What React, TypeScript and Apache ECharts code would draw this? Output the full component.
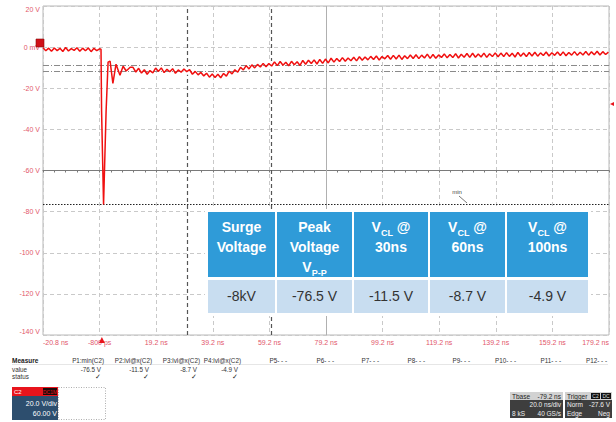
import React, { useEffect, useRef } from "react";
import * as echarts from "echarts";

// ---------- data ----------
const xTickLabels = ["-20.8 ns", "-800 ps", "19.2 ns", "39.2 ns", "59.2 ns", "79.2 ns", "99.2 ns", "119.2 ns", "139.2 ns", "159.2 ns", "179.2 ns"];
const yTickValues = [20, 0, -20, -40, -60, -80, -100, -120, -140];
const yTickLabels = ["20 V", "0 mV", "-20 V", "-40 V", "-60 V", "-80 V", "-100 V", "-120 V", "-140 V"];
const timeLeft = -20.8; // ns at left edge of screen

// pre-trigger trace, sampled every 1 ns from -20.8 ns
const preTriggerStart = -20.8;
const preTriggerVolts = [-0.3, -1.8, -0.5, -2.0, -0.4, -1.7, -0.6, -2.1, -0.2, -1.9, -0.7, -1.6, -0.3, -2.0, -0.5, -1.8, -0.4, -2.2, -0.6, -1.7, -0.8];
// surge spike and ringing
const spikeTimes = [-0.3, -0.1, 0.6, 1.5, 2.2, 2.9, 3.9, 5.0, 6.4, 7.5, 8.6, 10.0];
const spikeVolts = [-1.0, -31, -76.5, -31, -7.3, -6.8, -17.6, -8.3, -13.7, -9.3, -11.6, -9.8];
// settling trace, sampled every 1 ns from 11 ns
const settleStart = 11;
const settleVolts = [
  -9.8, -12.1, -10.3, -12.6, -11.0, -13.2, -11.4, -12.5, -10.2, -11.8,
  -10.1, -12.4, -10.8, -12.0, -10.5, -12.7, -11.1, -12.2, -10.6, -11.9,
  -11.0, -13.2, -11.8, -13.5, -12.3, -14.0, -12.7, -14.6, -13.1, -14.8,
  -13.2, -14.9, -12.8, -14.1, -11.7, -13.0, -11.0, -12.2, -9.8, -11.1,
  -9.0, -10.6, -8.6, -10.1, -8.4, -9.7, -7.9, -9.5, -8.0, -9.2,
  -7.2, -9.0, -7.0, -8.8, -7.4, -9.1, -6.9, -8.6, -7.1, -8.9,
  -6.5, -8.3, -6.4, -8.0, -6.2, -8.2, -6.0, -7.9, -5.8, -7.7,
  -5.4, -7.3, -5.5, -7.0, -5.1, -6.9, -5.3, -6.6, -4.9, -6.7,
  -4.7, -6.4, -4.8, -6.2, -4.5, -6.0, -4.3, -6.3, -4.6, -5.7,
  -4.1, -5.9, -4.0, -5.8, -3.9, -6.0, -4.2, -5.6, -3.8, -5.5,
  -3.7, -5.6, -3.9, -5.3, -3.4, -5.5, -3.6, -5.4, -3.8, -5.0,
  -3.3, -5.2, -3.6, -5.1, -3.2, -5.3, -3.5, -4.9, -3.1, -5.0,
  -3.0, -4.9, -3.3, -4.8, -2.9, -5.0, -3.2, -4.6, -2.8, -4.7,
  -2.9, -4.6, -2.7, -4.5, -3.0, -4.8, -2.6, -4.4, -2.9, -4.6,
  -2.6, -4.3, -2.5, -4.4, -2.8, -4.1, -2.4, -4.3, -2.7, -4.0,
  -2.4, -4.1, -2.3, -4.2, -2.6, -3.9, -2.2, -4.0, -2.5, -3.8,
  -2.1, -3.9, -2.3, -3.7, -2.0, -3.8, -2.2, -3.6, -2.4,
];

// cursors / measurements
const cursorTimes = [30, 60];
const cursorLevels = [-11.5, -8.7];
const minLevel = -76.5;
const triggerLevel = -27.6;
const triggerTime = 0;
const centerTime = 79.2;

// overlay table
const tableHeaders = [
  "{h|Surge}\n{h|Voltage}",
  "{h|Peak}\n{h|Voltage}\n{h|V}{s|P-P}",
  "{h|V}{s|CL}{h| @}\n{h|30ns}",
  "{h|V}{s|CL}{h| @}\n{h|60ns}",
  "{h|V}{s|CL}{h| @}\n{h|100ns}",
];
const tableValues = ["-8kV", "-76.5 V", "-11.5 V", "-8.7 V", "-4.9 V"];

// measure panel
const measureNames = ["P1:min(C2)", "P2:lvl@x(C2)", "P3:lvl@x(C2)", "P4:lvl@x(C2)", "P5- - -", "P6- - -", "P7- - -", "P8- - -", "P9- - -", "P10- - -", "P11- - -", "P12- - -"];
const measureValues = ["-76.5 V", "-11.5 V", "-8.7 V", "-4.9 V"];
const channelScale = "20.0 V/div";
const channelOffset = "60.00 V";
const timebaseRows = [["Tbase", "-79.2 ns"], ["", "20.0 ns/div"], ["8 kS", "40 GS/s"]];
const triggerRows = [["Trigger", ""], ["Norm", "-27.6 V"], ["Edge", "Neg"]];

// ---------- helpers ----------
const X = (t: number) => t - timeLeft;

function buildTrace(): [number, number][] {
  const pts: [number, number][] = [];
  preTriggerVolts.forEach((v, i) => pts.push([X(preTriggerStart + i), v]));
  spikeTimes.forEach((t, i) => pts.push([X(t), spikeVolts[i]]));
  settleVolts.forEach((v, i) => pts.push([X(settleStart + i), v]));
  return pts;
}

const FONT = "'Liberation Sans Narrow', 'Arial Narrow', 'Liberation Sans', Arial, sans-serif";
const LABEL_RED = "#e2566a";

function buildGraphics() {
  const g: any[] = [];
  // ---- table ----
  const colEdges = [208, 276, 353, 429, 506, 588];
  g.push({ type: "rect", shape: { x: 205, y: 209, width: 386, height: 107 }, style: { fill: "#ffffff" }, z: 50 });
  for (let i = 0; i < 5; i++) {
    const x0 = colEdges[i] + (i === 0 ? 0 : 1);
    const x1 = colEdges[i + 1] - (i === 4 ? 0 : 1);
    const cx = (x0 + x1) / 2;
    g.push({ type: "rect", shape: { x: x0, y: 212, width: x1 - x0, height: 65 }, style: { fill: "#2f9bd8" }, z: 51 });
    g.push({ type: "rect", shape: { x: x0, y: 280, width: x1 - x0, height: 33 }, style: { fill: "#c8ddf0" }, z: 51 });
    g.push({
      type: "text", x: cx, y: i === 1 ? 247 : 237, z: 52,
      style: {
        text: tableHeaders[i], align: "center", verticalAlign: "middle", fill: "#fff",
        rich: {
          h: { fontFamily: FONT, fontWeight: "bold", fontSize: 14, lineHeight: 20, fill: "#fff" },
          s: { fontFamily: FONT, fontWeight: "bold", fontSize: 9, lineHeight: 10, verticalAlign: "bottom", fill: "#fff" },
        },
      },
    });
    g.push({
      type: "text", x: cx, y: 296, z: 52,
      style: { text: tableValues[i], align: "center", verticalAlign: "middle", fill: "#333", font: `14px ${FONT}` },
    });
  }
  // ---- "min" tag ----
  g.push({ type: "text", x: 457, y: 192, z: 20, style: { text: "min", font: `6px ${FONT}`, fill: "#444", align: "center", verticalAlign: "middle" } });
  g.push({ type: "line", shape: { x1: 459, y1: 196, x2: 467, y2: 203 }, style: { stroke: "#555", lineWidth: 0.8 }, z: 20 });
  // ---- channel marker ----
  g.push({ type: "rect", shape: { x: 36, y: 39, width: 8, height: 8 }, style: { fill: "#d01018", stroke: "#8a0a0a", lineWidth: 0.6 }, z: 30 });

  // ---- measure panel ----
  const f7 = `6.3px ${FONT}`;
  g.push({ type: "text", x: 12, y: 360, style: { text: "Measure", font: `bold 6.5px ${FONT}`, fill: "#222", verticalAlign: "middle" } });
  g.push({ type: "text", x: 12, y: 369, style: { text: "value", font: f7, fill: "#333", verticalAlign: "middle" } });
  g.push({ type: "text", x: 12, y: 376, style: { text: "status", font: f7, fill: "#333", verticalAlign: "middle" } });
  g.push({ type: "line", shape: { x1: 12, y1: 364.5, x2: 608, y2: 364.5 }, style: { stroke: "#e6e6e6", lineWidth: 1 } });
  const measureRight = [104, 152, 200, 241, 287, 334, 379, 425, 470, 516, 561, 607];
  measureNames.forEach((n, i) => {
    g.push({ type: "text", x: measureRight[i], y: 360, style: { text: n, font: f7, fill: "#333", align: "right", verticalAlign: "middle" } });
  });
  measureValues.forEach((v, i) => {
    g.push({ type: "text", x: measureRight[i] - 3, y: 369, style: { text: v, font: f7, fill: "#333", align: "right", verticalAlign: "middle" } });
    g.push({ type: "text", x: measureRight[i] - 6, y: 377, style: { text: "\u2713", font: "bold 7px 'DejaVu Sans', sans-serif", fill: "#222", align: "center", verticalAlign: "middle" } });
  });
  // channel descriptor
  g.push({ type: "rect", shape: { x: 12, y: 387, width: 46, height: 9 }, style: { fill: "#e8141c" } });
  g.push({ type: "rect", shape: { x: 43, y: 388, width: 14, height: 7 }, style: { fill: "#1a0a0a" } });
  g.push({ type: "text", x: 14, y: 391.5, style: { text: "C2", font: `6px ${FONT}`, fill: "#fff", verticalAlign: "middle" } });
  g.push({ type: "text", x: 50, y: 391.5, style: { text: "DC1M", font: `5px ${FONT}`, fill: "#e8141c", align: "center", verticalAlign: "middle" } });
  g.push({ type: "rect", shape: { x: 12, y: 396, width: 46, height: 24 }, style: { fill: "#2d4e6e" } });
  g.push({ type: "text", x: 57, y: 403, style: { text: channelScale, font: `7px ${FONT}`, fill: "#fff", align: "right", verticalAlign: "middle" } });
  g.push({ type: "text", x: 57, y: 413, style: { text: channelOffset, font: `7px ${FONT}`, fill: "#fff", align: "right", verticalAlign: "middle" } });
  g.push({ type: "rect", shape: { x: 58.5, y: 387.5, width: 47, height: 32 }, style: { fill: "none", stroke: "#999", lineWidth: 0.8, lineDash: [1, 1.5] } });
  // timebase & trigger boxes
  const boxes = [
    { x: 510, w: 53, rows: timebaseRows },
    { x: 565, w: 47, rows: triggerRows },
  ];
  boxes.forEach((b, k) => {
    g.push({ type: "rect", shape: { x: b.x, y: 392, width: b.w, height: 26 }, style: { fill: "#3e3e3e" } });
    g.push({ type: "rect", shape: { x: b.x, y: 392, width: b.w, height: 8 }, style: { fill: "#d2d2d2" } });
    b.rows.forEach((r, j) => {
      const y = 396 + j * 8.5;
      const col = j === 0 ? "#222" : "#eee";
      if (r[0]) g.push({ type: "text", x: b.x + 2, y, style: { text: r[0], font: `6.5px ${FONT}`, fill: col, verticalAlign: "middle" } });
      if (r[1]) g.push({ type: "text", x: b.x + b.w - 2, y, style: { text: r[1], font: `6.5px ${FONT}`, fill: col, align: "right", verticalAlign: "middle" } });
    });
    if (k === 1) {
      g.push({ type: "rect", shape: { x: 591, y: 393, width: 9, height: 6 }, style: { fill: "#111" } });
      g.push({ type: "rect", shape: { x: 601, y: 393, width: 10, height: 6 }, style: { fill: "#111" } });
      g.push({ type: "text", x: 595.5, y: 396, style: { text: "C2", font: `5px ${FONT}`, fill: "#ddd", align: "center", verticalAlign: "middle" } });
      g.push({ type: "text", x: 606, y: 396, style: { text: "DC", font: `5px ${FONT}`, fill: "#ddd", align: "center", verticalAlign: "middle" } });
    }
  });
  return g;
}

export default function App() {
  const ref = useRef<HTMLDivElement>(null);
  useEffect(() => {
    if (!ref.current) return;
    const chart = echarts.init(ref.current, undefined, { renderer: "svg" });
    const trace = buildTrace();
    const option: any = {
      animation: false,
      backgroundColor: "#ffffff",
      grid: { left: 43, right: 7, top: 6, bottom: 87, show: true, borderColor: "#b8b8b8", borderWidth: 1, outerBoundsMode: "none" },
      xAxis: [
        {
          type: "value", min: 0, max: 200, interval: 20,
          axisLine: { show: false }, axisTick: { show: false },
          splitLine: { show: true, lineStyle: { color: "#c9c9c9", type: [4, 3], width: 1 } },
          axisLabel: {
            color: LABEL_RED, fontSize: 7, fontFamily: FONT, margin: 4,
            alignMinLabel: "left", alignMaxLabel: "right",
            formatter: (v: number) => xTickLabels[Math.round(v / 20)] ?? "",
          },
        },
        {
          type: "value", min: 0, max: 200, interval: 20, position: "bottom",
          axisLine: { show: true, onZero: true, onZeroAxisIndex: 1, lineStyle: { color: "#7a7a7a", width: 1 } },
          axisTick: { show: true, length: 2, lineStyle: { color: "#7a7a7a" } },
          minorTick: { show: true, splitNumber: 5, length: 2, lineStyle: { color: "#7a7a7a" } },
          axisLabel: { show: false }, splitLine: { show: false },
        },
      ],
      yAxis: [
        {
          type: "value", min: -140, max: 20, interval: 20,
          axisLine: { show: false }, axisTick: { show: false },
          splitLine: { show: true, lineStyle: { color: "#c9c9c9", type: [4, 3], width: 1 } },
          axisLabel: {
            color: LABEL_RED, fontSize: 7, fontFamily: FONT, margin: 3,
            verticalAlignMaxLabel: "top", verticalAlignMinLabel: "bottom",
            formatter: (v: number) => yTickLabels[yTickValues.indexOf(v)] ?? "",
          },
        },
        { type: "value", min: -80, max: 80, show: false },
      ],
      graphic: buildGraphics(),
      series: [
        {
          type: "line", xAxisIndex: 0, yAxisIndex: 0, data: trace, showSymbol: false, symbol: "none",
          lineStyle: { color: "#f01010", width: 1.5 }, z: 10, clip: true,
          markLine: {
            silent: true, symbol: ["none", "none"], label: { show: false }, z: 5,
            data: [
              { xAxis: X(centerTime), lineStyle: { color: "#b0b0b0", type: "solid", width: 1 } },
              ...cursorLevels.map((v) => ({ yAxis: v, lineStyle: { color: "#8a8a8a", type: [6, 2, 1, 2], width: 1 } })),
              { yAxis: minLevel, lineStyle: { color: "#222", type: [1.5, 1.5], width: 1.2 } },
              ...cursorTimes.map((t) => ({ xAxis: X(t), lineStyle: { color: "#555", type: [4, 3], width: 1.2 } })),
            ],
          },
          markPoint: {
            silent: true, label: { show: false },
            data: [
              ...cursorTimes.map((t, i) => ({ coord: [X(t), cursorLevels[i]], symbol: "emptyRect", symbolSize: [5, 6], itemStyle: { color: "#fff", borderColor: "#5f7f8f", borderWidth: 1 } })),
              { coord: [X(triggerTime), -140], symbol: "triangle", symbolSize: [6, 6], symbolOffset: [0, 5], itemStyle: { color: "#e8141c" } },
              { coord: [200, triggerLevel], symbol: "triangle", symbolRotate: 90, symbolSize: [4, 4], symbolOffset: [3, 0], itemStyle: { color: "#e8141c" } },
            ],
          },
        },
      ],
    };
    chart.setOption(option);
    return () => chart.dispose();
  }, []);
  return <div ref={ref} style={{ position: "fixed", left: 0, top: 0, width: 616, height: 422 }} />;
}
